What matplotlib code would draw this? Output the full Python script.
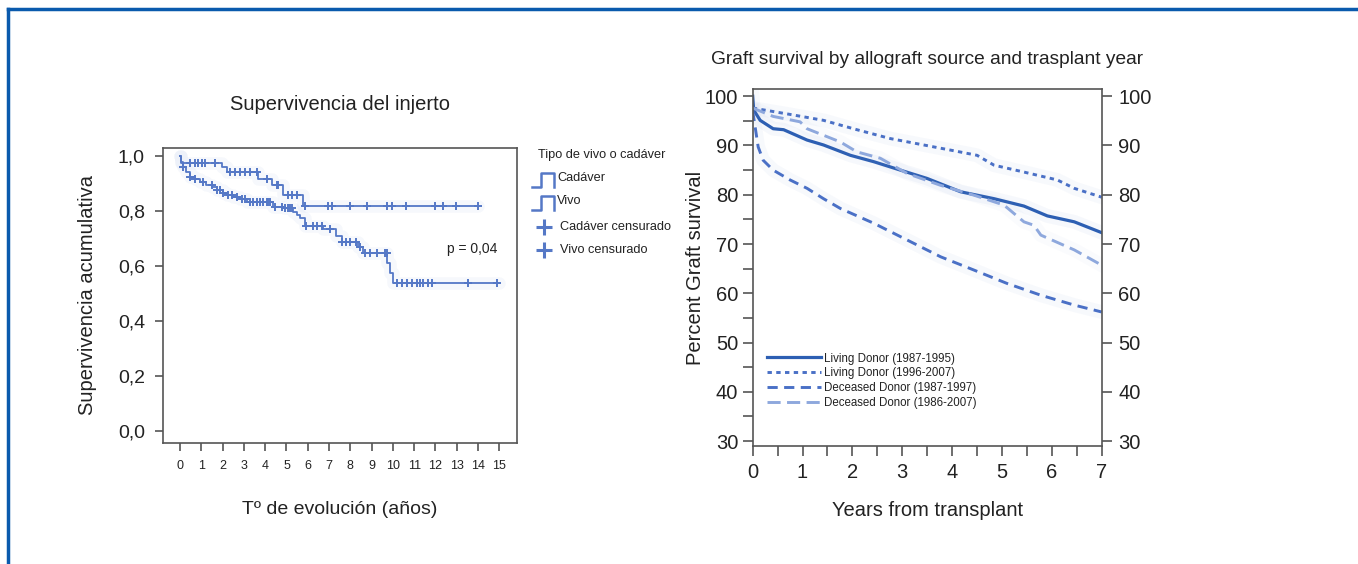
import numpy as np
import matplotlib
matplotlib.use('Agg')
import matplotlib.pyplot as plt
from matplotlib.lines import Line2D
from matplotlib.ticker import MultipleLocator

plt.rcParams['font.family'] = ['Liberation Sans', 'DejaVu Sans']

# --- left: Kaplan-Meier, supervivencia del injerto ---
vivo_t = [0, 0.05, 1.96, 2.22, 3.68, 4.3, 4.85, 5.76, 14.0]
vivo_s = [1.0, 0.975, 0.96, 0.942, 0.914, 0.893, 0.857, 0.817, 0.817]
vivo_cens = [0.47, 0.70, 0.86, 1.02, 1.17, 1.64, 2.35, 2.58, 2.82, 3.05, 3.29, 3.6,
             4.07, 4.54, 4.62, 5.09, 5.24, 5.48, 5.87, 6.96, 7.12, 7.98, 8.76,
             9.7, 9.94, 10.61, 11.97, 12.36, 12.96, 14.0]

cad_t = [0, 0.05, 0.15, 0.3, 0.47, 0.7, 0.94, 1.2, 1.5, 1.72, 2.0, 2.19, 2.5, 2.82,
         3.13, 4.38, 4.9, 5.3, 5.48, 5.65, 5.87, 6.73, 7.35, 7.59, 8.37, 8.61, 9.73,
         9.86, 10.0, 15.0]
cad_s = [1.0, 0.976, 0.958, 0.94, 0.924, 0.915, 0.906, 0.895, 0.885, 0.875, 0.866,
         0.857, 0.85, 0.842, 0.833, 0.815, 0.809, 0.797, 0.784, 0.772, 0.745, 0.732,
         0.71, 0.688, 0.669, 0.645, 0.609, 0.573, 0.536, 0.536]
cad_cens = [0.16, 0.47, 0.70, 1.10, 1.49, 1.72, 1.88, 2.03, 2.27, 2.43, 2.66, 2.9,
            3.05, 3.29, 3.44, 3.6, 3.76, 3.91, 4.07, 4.15, 4.23, 4.46, 4.77, 4.93,
            5.09, 5.16, 5.25, 5.9, 6.26, 6.42, 6.65, 7.04, 7.62, 7.82, 7.98, 8.29,
            8.45, 8.69, 8.92, 9.23, 9.62, 9.7, 10.17, 10.41, 10.64, 10.88, 11.11,
            11.27, 11.42, 11.66, 11.82, 13.54, 14.87]

# --- right: graft survival by allograft source ---
years_ld1 = [0, 0.02, 0.15, 0.41, 0.62, 1.09, 1.42, 1.96, 2.43, 2.96, 3.5, 4.17, 4.84, 5.44, 5.91, 6.45, 7.0]
surv_ld1 = [100, 97.2, 95.1, 93.4, 93.2, 91.1, 90.1, 88.0, 86.7, 85.0, 83.3, 80.6, 79.2, 77.7, 75.7, 74.5, 72.3]
years_ld2 = [0, 0.75, 1.42, 2.09, 2.76, 3.43, 4.1, 4.5, 4.84, 5.44, 6.11, 6.45, 7.0]
surv_ld2 = [97.6, 96.3, 95.1, 93.2, 91.4, 90.1, 88.8, 88.0, 86.0, 84.6, 83.0, 81.3, 79.5]
years_dd1 = [0, 0.11, 0.21, 0.41, 0.75, 1.09, 1.42, 1.76, 2.43, 3.1, 3.77, 4.44, 5.1, 5.78, 6.45, 7.0]
surv_dd1 = [97.0, 89.7, 87.0, 85.0, 83.0, 81.3, 79.2, 77.2, 74.2, 70.8, 67.4, 64.7, 62.0, 59.6, 57.6, 56.2]
years_dd2 = [0, 0.41, 0.95, 1.09, 1.76, 2.09, 2.56, 3.1, 3.77, 4.44, 5.04, 5.44, 5.64, 5.78, 6.45, 7.0]
surv_dd2 = [97.6, 95.9, 94.8, 93.4, 90.7, 88.7, 87.4, 84.3, 81.9, 79.9, 77.9, 74.5, 73.8, 71.8, 68.8, 65.7]

labels_r = ['Living Donor (1987-1995)', 'Living Donor (1996-2007)',
            'Deceased Donor (1987-1997)', 'Deceased Donor (1986-2007)']

km_col = '#5578c6'
txt = '#222222'
spine_col = '#555555'

fig = plt.figure(figsize=(13.58, 5.64), dpi=100)


def step_at(t, s, x):
    idx = np.searchsorted(t, x, side='right') - 1
    return np.array(s)[idx]


# left panel
ax1 = fig.add_axes([0.12003, 0.21454, 0.26068, 0.52305])
for t, s, c in [(vivo_t, vivo_s, vivo_cens), (cad_t, cad_s, cad_cens)]:
    ax1.step(t, s, where='post', color=km_col, lw=9, alpha=0.05, solid_capstyle='round')
    ax1.step(t, s, where='post', color=km_col, lw=1.3)
    ax1.plot(c, step_at(t, s, c), '+', color=km_col, ms=6, mew=1.4)
ax1.set_xlim(-0.8, 15.83)
ax1.set_ylim(-0.044, 1.028)
ax1.set_xticks(range(16))
ax1.set_xticklabels([str(i) for i in range(16)], fontsize=9, color=txt)
ax1.set_yticks([0, 0.2, 0.4, 0.6, 0.8, 1.0])
ax1.set_yticklabels(['0,0', '0,2', '0,4', '0,6', '0,8', '1,0'], fontsize=14, color=txt)
ax1.tick_params(axis='y', length=6, width=1.2, color=spine_col, pad=7)
ax1.tick_params(axis='x', length=6, width=1.2, color=spine_col, pad=6)
for sp in ax1.spines.values():
    sp.set_color(spine_col)
    sp.set_linewidth(1.2)
ax1.set_title('Supervivencia del injerto', fontsize=14.5, color=txt, pad=27)
ax1.set_ylabel('Supervivencia acumulativa', fontsize=14.5, color=txt, labelpad=15)
ax1.set_xlabel('Tº de evolución (años)', fontsize=14, color=txt, labelpad=21)
ax1.text(14.9, 0.66, 'p = 0,04', fontsize=10, color=txt, ha='right', va='center')

# right panel
ax2 = fig.add_axes([0.55427, 0.20922, 0.25700, 0.63245])
styles = [
    dict(color='#2d5fb3', lw=2.3, ls='-'),
    dict(color='#4a70c6', lw=2.1, ls=(0, (1.5, 1.5))),
    dict(color='#4a70c6', lw=2.1, ls=(0, (3.5, 2.2))),
    dict(color='#8ea8dd', lw=2.1, ls=(0, (4.5, 2.2))),
]
series = [(years_ld1, surv_ld1), (years_ld2, surv_ld2), (years_dd1, surv_dd1), (years_dd2, surv_dd2)]
handles = []
for (x, y), st, lab in zip(series, styles, labels_r):
    ax2.plot(x, y, color=st['color'], lw=10, alpha=0.04)
    h, = ax2.plot(x, y, label=lab, **st)
    handles.append(h)
ax2.set_xlim(0, 7)
ax2.set_ylim(29, 101.4)
ax2.xaxis.set_major_locator(MultipleLocator(1))
ax2.xaxis.set_minor_locator(MultipleLocator(0.5))
ax2.yaxis.set_major_locator(MultipleLocator(10))
ax2.yaxis.set_minor_locator(MultipleLocator(5))
ax2.tick_params(which='both', length=7, width=1.2, color=spine_col, labelsize=14.5, labelcolor=txt)
ax2.tick_params(axis='x', pad=5)
for sp in ax2.spines.values():
    sp.set_color(spine_col)
    sp.set_linewidth(1.2)
ax2r = ax2.twinx()
ax2r.set_ylim(ax2.get_ylim())
ax2r.set_yticks(range(30, 101, 10))
ax2r.tick_params(length=7, width=1.2, color=spine_col, labelsize=14.5, labelcolor=txt, pad=5)
for sp in ax2r.spines.values():
    sp.set_visible(False)
ax2.set_title('Graft survival by allograft source and trasplant year', fontsize=13.8, color=txt, pad=18)
ax2.set_ylabel('Percent Graft survival', fontsize=14.5, color=txt, labelpad=0)
ax2.set_xlabel('Years from transplant', fontsize=14.5, color=txt, labelpad=14)
ax2.legend(handles=handles, loc='upper left', bbox_to_anchor=(0.028, 0.275), frameon=False,
           fontsize=8.3, handlelength=4.7, handletextpad=0.26, labelspacing=0.25,
           borderaxespad=0, labelcolor=txt)

# overlay for frame and left legend
ov = fig.add_axes([0, 0, 1, 1], zorder=-1)
ov.set_xlim(0, 1358)
ov.set_ylim(564, 0)
ov.axis('off')
ov.add_line(Line2D([8, 1358], [9, 9], color='#0a5aad', lw=2.5))
ov.add_line(Line2D([8, 8], [9, 564], color='#0a5aad', lw=2.5))

ov.text(538, 155, 'Tipo de vivo o cadáver', fontsize=9.2, color=txt, va='center')
leg_rows = [181, 204, 227, 250]
leg_names = ['Cadáver', 'Vivo', 'Cadáver censurado', 'Vivo censurado']
for i, (yy, name) in enumerate(zip(leg_rows, leg_names)):
    if i < 2:
        ov.add_line(Line2D([532, 541, 541, 554, 554], [yy + 6, yy + 6, yy - 8, yy - 8, yy + 6],
                           color=km_col, lw=1.8))
        ov.text(557, yy - 3, name, fontsize=9.2, color=txt, va='center')
    else:
        ov.plot([544], [yy], '+', color=km_col, ms=12, mew=2.2)
        ov.text(560, yy, name, fontsize=9.2, color=txt, va='center')

fig.savefig('out.png', dpi=100)
